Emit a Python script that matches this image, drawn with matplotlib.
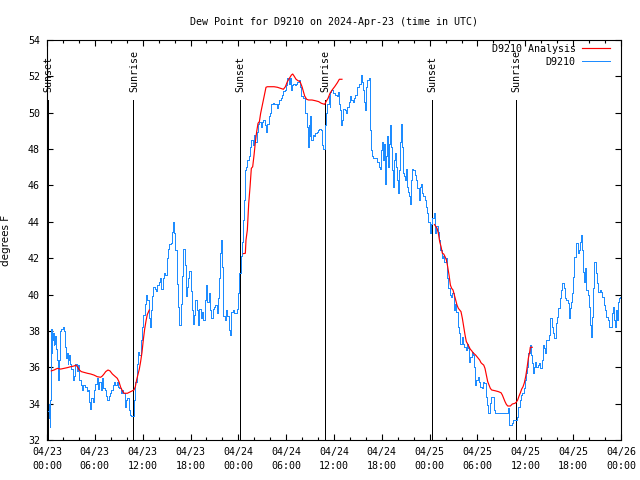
import numpy as np
import matplotlib
matplotlib.use("Agg")
import matplotlib.pyplot as plt
from matplotlib.ticker import MultipleLocator

# hours since 2024-04-23 00:00 UTC
obs_hours = [
    0.17, 0.25, 0.30, 0.38, 0.46, 0.54, 0.62, 0.71, 0.80, 0.88, 0.96, 1.05, 1.13, 1.22, 1.30, 1.42,
    1.50, 1.55, 1.63, 1.71, 1.88, 2.05, 2.21, 2.38, 2.46, 2.55, 2.63, 2.72, 2.80, 2.97, 3.14, 3.30,
    3.47, 3.64, 3.81, 3.97, 4.14, 4.31, 4.47, 4.64, 4.89, 5.06, 5.23, 5.40, 5.48, 5.64, 5.81, 5.98,
    6.15, 6.31, 6.48, 6.65, 6.81, 6.98, 7.15, 7.32, 7.48, 7.65, 7.82, 7.99, 8.15, 8.32, 8.49, 8.65,
    8.82, 8.99, 9.16, 9.32, 9.49, 9.66, 9.83, 9.99, 10.16, 10.33, 10.49, 10.66, 10.83, 10.99, 11.16,
    11.33, 11.50, 11.66, 11.83, 12.00, 12.17, 12.33, 12.50, 12.67, 12.83, 13.00, 13.09, 13.25, 13.42,
    13.59, 13.75, 13.92, 14.09, 14.26, 14.42, 14.59, 14.76, 14.93, 15.09, 15.26, 15.43, 15.59, 15.76,
    15.93, 16.01, 16.18, 16.35, 16.51, 16.68, 16.85, 17.01, 17.18, 17.35, 17.52, 17.60, 17.77, 17.94,
    18.10, 18.19, 18.35, 18.52, 18.69, 18.86, 19.02, 19.19, 19.36, 19.52, 19.69, 19.86, 20.03, 20.19,
    20.36, 20.53, 20.69, 20.86, 21.03, 21.19, 21.36, 21.53, 21.70, 21.78, 21.95, 22.03, 22.20, 22.37,
    22.53, 22.70, 22.87, 23.04, 23.20, 23.37, 23.54, 23.70, 23.87, 24.04, 24.21, 24.38, 24.55, 24.63,
    24.80, 24.88, 25.05, 25.22, 25.38, 25.55, 25.72, 25.88, 26.05, 26.22, 26.39, 26.55, 26.72, 26.89,
    27.06, 27.22, 27.39, 27.56, 27.72, 27.89, 28.06, 28.23, 28.39, 28.56, 28.73, 28.89, 29.06, 29.23,
    29.40, 29.56, 29.73, 29.90, 30.07, 30.23, 30.40, 30.57, 30.73, 30.82, 30.99, 31.15, 31.32, 31.49,
    31.65, 31.82, 31.99, 32.16, 32.32, 32.49, 32.66, 32.74, 32.91, 32.99, 33.08, 33.24, 33.41, 33.58,
    33.75, 33.91, 34.08, 34.25, 34.41, 34.50, 34.66, 34.83, 34.91, 35.08, 35.25, 35.42, 35.50, 35.58,
    35.75, 35.92, 36.09, 36.25, 36.42, 36.59, 36.67, 36.84, 36.92, 37.09, 37.26, 37.42, 37.59, 37.76,
    37.92, 38.09, 38.26, 38.43, 38.59, 38.76, 38.93, 39.10, 39.26, 39.43, 39.60, 39.68, 39.76, 39.93,
    40.02, 40.10, 40.27, 40.43, 40.52, 40.60, 40.68, 40.85, 41.02, 41.19, 41.35, 41.52, 41.69, 41.85,
    42.02, 42.10, 42.19, 42.27, 42.44, 42.61, 42.69, 42.86, 42.94, 43.11, 43.19, 43.36, 43.44, 43.61,
    43.78, 43.86, 44.03, 44.11, 44.28, 44.36, 44.45, 44.53, 44.70, 44.86, 45.03, 45.12, 45.28, 45.37,
    45.53, 45.62, 45.70, 45.87, 46.04, 46.20, 46.37, 46.54, 46.70, 46.79, 46.96, 47.12, 47.29, 47.42,
    47.59, 47.75, 47.92, 48.09, 48.17, 48.42, 48.59, 48.76, 48.93, 49.09, 49.26, 49.43, 49.59, 49.76,
    49.93, 50.10, 50.26, 50.43, 50.60, 50.76, 50.93, 51.10, 51.27, 51.43, 51.60, 51.77, 51.93, 52.10,
    52.27, 52.44, 52.60, 52.77, 52.94, 53.02, 53.19, 53.36, 53.52, 53.69, 53.77, 53.94, 54.11, 54.27,
    54.44, 54.61, 54.78, 54.94, 55.11, 55.28, 55.45, 55.61, 55.78, 55.95, 56.11, 56.28, 56.70, 57.20,
    57.79, 57.87, 57.96, 58.04, 58.21, 58.37, 58.46, 58.71, 58.87, 59.04, 59.20, 59.37, 59.54, 59.70,
    59.87, 59.95, 60.12, 60.29, 60.46, 60.62, 60.71, 60.87, 60.96, 61.12, 61.29, 61.46, 61.63, 61.79,
    61.96, 62.13, 62.21, 62.38, 62.55, 62.71, 62.88, 63.05, 63.22, 63.38, 63.55, 63.72, 63.88, 64.05,
    64.22, 64.39, 64.55, 64.72, 64.89, 65.05, 65.22, 65.39, 65.47, 65.64, 65.81, 65.97, 66.06, 66.23,
    66.39, 66.56, 66.64, 66.81, 66.89, 67.06, 67.14, 67.23, 67.39, 67.56, 67.73, 67.90, 68.06, 68.15,
    68.32, 68.40, 68.57, 68.73, 68.90, 69.07, 69.24, 69.40, 69.57, 69.74, 69.90, 70.07, 70.24, 70.41,
    70.57, 70.74, 70.91, 71.07, 71.16, 71.33, 71.41, 71.58, 71.66, 71.83, 71.91, 72.00,
]
obs_dewpt = [
    33.6, 34.0, 33.2, 32.7, 34.2, 38.1, 36.8, 37.5, 37.9, 37.2, 37.7, 37.3, 37.7, 37.0, 36.4, 35.3,
    35.6, 36.4, 37.2, 38.0, 38.1, 38.2, 38.0, 37.1, 36.5, 36.8, 36.2, 36.4, 36.7, 36.2, 35.9, 35.3,
    35.5, 36.2, 35.8, 36.1, 35.3, 35.0, 34.75, 35.0, 34.9, 34.7, 34.75, 34.1, 33.7, 34.3, 34.1, 34.75,
    35.1, 35.4, 34.8, 35.2, 34.75, 35.4, 34.85, 34.75, 34.4, 34.2, 34.4, 34.6, 34.75, 35.0, 35.2, 35.0,
    35.2, 34.9, 34.85, 34.6, 34.75, 34.6, 33.8, 34.2, 34.3, 33.65, 33.4, 33.3, 33.3, 34.2, 35.2,
    36.2, 36.85, 36.7, 37.5, 38.2, 38.9, 39.5, 40.0, 39.7, 38.7, 38.2, 39.15, 39.9, 40.4,
    40.3, 40.2, 40.5, 40.7, 40.9, 40.3, 40.9, 41.2, 41.1, 42.0, 42.5, 42.8, 42.85, 43.45,
    44.0, 43.4, 42.45, 40.6, 39.3, 38.3, 39.5, 41.0, 42.5, 41.6, 39.9, 40.4, 40.9, 41.3,
    40.2, 39.15, 38.4, 38.9, 39.7, 39.15, 38.3, 39.2, 38.7, 39.05, 38.6, 39.7, 40.5, 39.6,
    40.1, 39.15, 38.7, 39.2, 39.3, 39.4, 39.0, 39.8, 40.9, 42.3, 43.0, 41.5, 38.8, 38.6,
    39.15, 38.8, 38.05, 37.8, 39.05, 39.15, 39.0, 39.0, 39.2, 40.1, 41.2, 42.1, 42.9, 44.1,
    45.2, 46.85, 47.0, 47.4, 47.6, 48.1, 48.5, 48.2, 48.8, 48.4, 48.95, 49.4, 49.5, 49.2,
    49.5, 49.6, 49.3, 48.95, 49.4, 49.8, 49.97, 50.5, 50.55, 50.5, 50.5, 50.25, 50.5, 50.7,
    50.8, 50.97, 51.2, 51.25, 51.5, 51.9, 51.6, 51.9, 51.25, 51.5, 51.6, 51.5, 51.6, 51.7,
    51.8, 51.4, 50.9, 50.8, 50.8, 49.97, 49.2, 48.1, 49.3, 48.7, 49.8, 48.5, 48.8, 48.7,
    48.9, 48.95, 49.05, 49.1, 49.05, 48.2, 48.0, 48.0, 49.3, 49.97, 50.5, 50.9, 50.3, 51.15,
    51.25, 51.07, 51.07, 50.97, 50.9, 51.15, 50.5, 50.15, 49.3, 49.6, 50.2, 50.15, 49.97, 50.3,
    50.6, 50.9, 50.7, 50.6, 50.8, 50.97, 51.4, 51.4, 51.6, 52.07, 51.7, 51.25, 50.6, 50.15,
    50.9, 51.4, 51.8, 51.9, 50.5, 49.05, 47.95, 47.6, 47.5, 47.5, 47.5, 47.3, 47.0, 46.9,
    47.95, 48.4, 47.4, 48.3, 46.1, 47.6, 48.7, 47.0, 48.3, 49.3, 48.1, 46.85, 45.9, 47.4,
    47.8, 47.0, 46.3, 45.57, 46.85, 48.4, 49.4, 48.1, 46.7, 46.5, 46.3, 46.9, 45.9, 45.66,
    45.4, 45.0, 46.3, 46.9, 46.85, 46.6, 46.3, 45.85, 45.2, 45.9, 46.1, 45.57, 45.4, 45.2,
    44.8, 44.47, 44.0, 43.37, 43.9, 44.2, 44.47, 43.37, 43.75, 43.46, 43.0, 42.45, 42.0, 42.1,
    41.8, 42.0, 40.9, 40.34, 39.97, 39.88, 40.07, 39.15, 39.5, 39.06, 38.23, 37.87, 37.3, 37.68,
    37.3, 37.13, 36.95, 37.3, 37.04, 36.3, 36.58, 36.85, 36.67, 36.03, 35.02, 35.3, 35.48, 35.21,
    34.93, 34.84, 35.21, 35.12, 34.38, 33.92, 33.47, 34.02, 34.38, 34.38, 33.65, 33.47, 33.47, 33.47,
    33.47, 33.74, 33.47, 32.82, 32.82, 32.92, 33.1, 33.1, 33.1, 33.28, 33.83, 34.2, 34.47, 34.57,
    34.84, 35.3, 35.67, 36.03, 36.77, 37.22, 36.67, 36.22, 35.67, 36.03, 36.31, 36.03, 36.12, 36.22,
    35.94, 36.4, 37.22, 37.04, 36.77, 37.5, 37.5, 37.78, 38.69, 38.23, 37.87, 37.59, 38.42, 38.78,
    39.24, 39.79, 40.25, 40.62, 40.34, 39.79, 39.7, 39.52, 38.69, 39.24, 39.61, 40.07, 40.98, 42.08,
    42.82, 42.82, 42.27, 42.45, 42.91, 43.27, 42.45, 41.26, 40.71, 41.44, 40.25, 39.97, 39.33, 38.32,
    37.68, 38.78, 40.34, 41.81, 41.17, 40.62, 40.16, 40.25, 40.16, 39.88, 39.42, 39.15, 38.78, 38.6,
    38.23, 38.23, 38.97, 39.33, 38.6, 38.23, 39.15, 38.6, 39.61, 39.79, 39.88, 39.95,
]

nan = float("nan")
ana_hours = [
    0.54, 0.88, 1.30, 1.71, 2.13, 2.55, 2.97, 3.39, 3.64, 3.81, 4.06, 4.31, 4.64, 5.06, 5.48, 5.90,
    6.31, 6.73, 6.94, 7.15, 7.36, 7.65, 7.90, 8.20, 8.49, 8.82, 9.03, 9.24, 9.45, 9.66, 10.08, 10.41,
    10.70, 10.91, 11.08, 11.24, 11.41, 11.58, 11.74, 11.91, 12.08, 12.25, 12.42, 12.58, 12.83, 13.0,
    24.63, 24.88, 24.96, 25.13, 25.30, 25.47, 25.63, 25.80, 25.97, 26.14, 26.30, 26.47, 26.64, 26.80,
    26.97, 27.14, 27.31, 27.47, 27.64, 28.06, 28.48, 28.90, 29.31, 29.65, 29.90, 30.15, 30.40, 30.65,
    30.82, 30.99, 31.24, 31.49, 31.74, 31.99, 32.16, 32.32, 32.57, 32.82, 33.24, 33.66, 34.08, 34.41,
    34.83, 35.00, 35.25, 35.50, 35.83, 36.08, 36.42, 36.67, 37.00, 37.1,
    48.60, 48.93, 49.09, 49.26, 49.43, 49.59, 49.76, 49.93, 50.10, 50.26, 50.43, 50.60, 50.76, 50.93,
    51.10, 51.27, 51.43, 51.60, 51.77, 51.93, 52.10, 52.27, 52.44, 52.60, 52.77, 52.94, 53.10, 53.27,
    53.44, 53.61, 53.77, 53.94, 54.11, 54.27, 54.44, 54.61, 54.78, 54.94, 55.11, 55.28, 55.45, 55.61,
    55.78, 56.20, 56.62, 56.95, 57.12, 57.29, 57.45, 57.62, 57.79, 58.12, 58.37, 58.71, 58.88, 59.04,
    59.21, 59.38, 59.54, 59.71, 59.88, 60.05, 60.21, 60.38, 60.55, 60.62, 60.87,
]
ana_dewpt = [
    35.8, 35.85, 35.94, 35.9, 35.94, 35.98, 36.03, 36.07, 36.12, 36.03, 35.85, 35.76, 35.72, 35.67, 35.63, 35.57,
    35.48, 35.45, 35.52, 35.63, 35.76, 35.85, 35.8, 35.63, 35.52, 35.39, 35.2, 34.9, 34.71, 34.57, 34.57, 34.64,
    34.7, 34.75, 34.93, 35.3, 35.6, 35.9, 36.3, 36.8, 37.5, 38.1, 38.55, 38.9, 39.15, nan,
    42.25, 42.27, 43.0, 43.55, 45.0, 45.93, 46.94, 47.03, 47.67, 48.4, 48.96, 49.42, 49.51, 49.97,
    50.33, 50.7, 51.07, 51.4, 51.43, 51.43, 51.43, 51.4, 51.34, 51.29, 51.43, 51.71, 51.89, 52.07,
    52.13, 52.02, 51.84, 51.76, 51.71, 51.43, 51.16, 50.92, 50.74, 50.7, 50.7, 50.66, 50.61, 50.52,
    50.46, 50.61, 50.79, 51.07, 51.29, 51.43, 51.65, 51.84, 51.84, nan,
    43.85, 43.64, 43.37, 42.9, 42.63, 42.27, 42.23, 42.08, 41.9, 41.53, 41.07, 40.52, 40.34, 40.25,
    39.97, 39.7, 39.42, 39.24, 39.15, 39.06, 38.69, 38.23, 37.77, 37.41, 37.28, 37.13, 36.99, 36.91,
    36.8, 36.73, 36.67, 36.58, 36.49, 36.4, 36.25, 36.18, 36.12, 35.94, 35.57, 35.21, 35.02, 34.84,
    34.75, 34.71, 34.66, 34.6, 34.47, 34.29, 34.11, 33.96, 33.87, 33.87, 33.98, 34.02, 34.09, 34.2,
    34.42, 34.6, 34.8, 34.93, 35.15, 35.5, 35.95, 36.5, 36.85, 37.1, 37.1,
]

sunset_hours = [0.13, 24.2, 48.3]
sunrise_hours = [10.8, 34.85, 58.8]

tick_hours = [0, 6, 12, 18, 24, 30, 36, 42, 48, 54, 60, 66, 72]
tick_labels = ["04/23\n00:00", "04/23\n06:00", "04/23\n12:00", "04/23\n18:00",
               "04/24\n00:00", "04/24\n06:00", "04/24\n12:00", "04/24\n18:00",
               "04/25\n00:00", "04/25\n06:00", "04/25\n12:00", "04/25\n18:00",
               "04/26\n00:00"]

mono = "DejaVu Sans Mono"
fs = 7.2
px = 0.72  # one pixel in points at 100 dpi

fig = plt.figure(figsize=(6.4, 4.8), dpi=100)
ax = fig.add_axes([47 / 640, 40 / 480, 574 / 640, 400 / 480])

# sunrise / sunset markers
for h in sunset_hours:
    ax.plot([h, h], [32, 50.7], color="black", lw=px, zorder=1, antialiased=False)
    ax.text(h + 0.1, 51.15, "Sunset", rotation=90, ha="center", va="bottom",
            family=mono, fontsize=fs)
for h in sunrise_hours:
    ax.plot([h, h], [32, 50.7], color="black", lw=px, zorder=1, antialiased=False)
    ax.text(h + 0.1, 51.15, "Sunrise", rotation=90, ha="center", va="bottom",
            family=mono, fontsize=fs)

ax.plot(ana_hours, ana_dewpt, color="#ff0000", lw=0.85, label="D9210 Analysis", zorder=3)
ax.plot(obs_hours, obs_dewpt, color="#1e8cff", lw=px, drawstyle="steps-mid",
        label="D9210", zorder=2, antialiased=False)

ax.set_xlim(0, 72)
ax.set_ylim(32, 54)
ax.set_xticks(tick_hours)
ax.set_xticklabels(tick_labels, family=mono, fontsize=fs, linespacing=1.45)
ax.xaxis.set_minor_locator(MultipleLocator(2))
ax.yaxis.set_major_locator(MultipleLocator(2))
for lab in ax.get_yticklabels():
    lab.set_family(mono)
    lab.set_fontsize(fs)
ax.tick_params(which="both", direction="in", top=True, right=True, width=0.8)
ax.tick_params(which="major", length=4, pad=5)
ax.tick_params(which="minor", length=2.2)
for sp in ax.spines.values():
    sp.set_linewidth(0.8)

ax.set_title("Dew Point for D9210 on 2024-Apr-23 (time in UTC)", family=mono,
             fontsize=fs, pad=11)
ax.set_ylabel("degrees F", fontsize=7.5)
ax.yaxis.set_label_coords(-0.062, 0.5)

leg = ax.legend(loc="upper right", bbox_to_anchor=(0.984, 0.995), frameon=False,
                markerfirst=False, prop={"family": mono, "size": fs},
                handlelength=2.8, handletextpad=0.6, labelspacing=0.3,
                borderaxespad=0.0, borderpad=0.2)

fig.savefig("out.png", dpi=100)
